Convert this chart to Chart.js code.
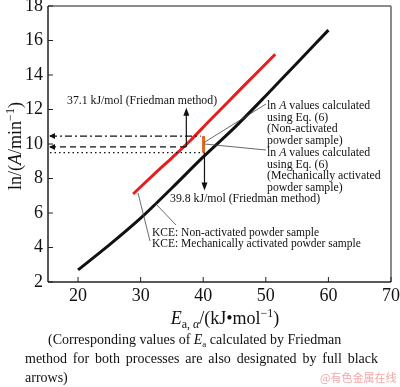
<!DOCTYPE html>
<html>
<head>
<meta charset="utf-8">
<script src="https://cdn.jsdelivr.net/npm/chart.js@4"></script>
<style>
  body { margin: 0; background: #fff; }
  #chart { display: block; }
</style>
</head>
<body>
<canvas id="chart" width="400" height="387"></canvas>
<script>
// data
const blackEa = [20, 25, 30, 35, 40, 45, 50, 55, 60];
const blackLnA = [2.7, 4.15, 5.7, 7.45, 9.25, 10.95, 12.8, 14.7, 16.6];
const redEa = [28.8, 32, 35, 38, 41, 44, 47, 51.5];
const redLnA = [7.1, 8.2, 9.2, 10.22, 11.35, 12.45, 13.56, 15.2];
const xTicks = [20, 30, 40, 50, 60, 70];
const yTicks = [2, 4, 6, 8, 10, 12, 14, 16, 18];

// reference levels: ln A (dash-dot, dashed, dotted) and where they stop on the Ea axis
const refLnA = [10.46, 9.83, 9.5];
const refEaEnd = [39.6, 37.3, 40.2];
const friedmanEa = [37.3, 40.2];     // up arrow (activated), down arrow (non-activated)
const arrowTips = [12.1, 7.3];

const SERIF = "'Liberation Serif', 'DejaVu Serif', serif";
const f = (size, italic) => (italic ? 'italic ' : '') + size + 'px ' + SERIF;

function rich(ctx, parts, x, y, align) {
  let w = 0;
  parts.forEach(p => { ctx.font = p.f; w += ctx.measureText(p.t).width; });
  let cx = align === 'center' ? x - w / 2 : x;
  ctx.textAlign = 'left';
  ctx.textBaseline = 'alphabetic';
  parts.forEach(p => {
    ctx.font = p.f;
    ctx.fillText(p.t, cx, y + (p.dy || 0));
    cx += ctx.measureText(p.t).width;
  });
}

function justify(ctx, text, x, y, width) {
  const words = text.split(' ');
  let sum = 0;
  words.forEach(w => sum += ctx.measureText(w).width);
  const gap = (width - sum) / (words.length - 1);
  let cx = x;
  words.forEach(w => { ctx.fillText(w, cx, y); cx += ctx.measureText(w).width + gap; });
}

function arrowHead(ctx, x, y, dir) {
  ctx.beginPath();
  if (dir === 'up') { ctx.moveTo(x, y); ctx.lineTo(x - 3, y + 8); ctx.lineTo(x + 3, y + 8); }
  else if (dir === 'down') { ctx.moveTo(x, y); ctx.lineTo(x - 3, y - 8); ctx.lineTo(x + 3, y - 8); }
  else { ctx.moveTo(x, y); ctx.lineTo(x + 6, y - 3); ctx.lineTo(x + 6, y + 3); }
  ctx.closePath();
  ctx.fill();
}

function line(ctx, x1, y1, x2, y2) {
  ctx.beginPath(); ctx.moveTo(x1, y1); ctx.lineTo(x2, y2); ctx.stroke();
}

const decor = {
  id: 'decor',
  afterDatasetsDraw(chart) {
    const ctx = chart.ctx, xs = chart.scales.x, ys = chart.scales.y, a = chart.chartArea;
    const X = v => xs.getPixelForValue(v), Y = v => ys.getPixelForValue(v);
    ctx.save();

    // frame
    ctx.lineWidth = 1.5;
    ctx.strokeStyle = '#666';
    line(ctx, a.left, a.top, a.right, a.top);
    line(ctx, a.right, a.top, a.right, a.bottom);
    ctx.strokeStyle = '#222';
    line(ctx, a.left, a.top, a.left, a.bottom);
    line(ctx, a.left, a.bottom, a.right, a.bottom);

    // inward ticks
    ctx.lineWidth = 1;
    xTicks.forEach(v => line(ctx, X(v), a.bottom, X(v), a.bottom - 5));
    yTicks.forEach(v => line(ctx, a.left, Y(v), a.left + 5, Y(v)));

    // reference lines
    ctx.strokeStyle = '#111';
    ctx.fillStyle = '#111';
    ctx.lineWidth = 1.2;
    const dashes = [[7, 3, 2, 3], [6, 4], [1.5, 3]];
    refLnA.forEach((v, i) => {
      ctx.setLineDash(dashes[i]);
      line(ctx, a.left + 2, Y(v), X(refEaEnd[i]), Y(v));
    });
    ctx.setLineDash([]);
    arrowHead(ctx, a.left + 1, Y(refLnA[0]), 'left');
    arrowHead(ctx, a.left + 1, Y(refLnA[1]), 'left');

    // Friedman arrows
    line(ctx, X(friedmanEa[0]), Y(refLnA[1]), X(friedmanEa[0]), Y(arrowTips[0]) + 6);
    arrowHead(ctx, X(friedmanEa[0]), Y(arrowTips[0]), 'up');
    line(ctx, X(friedmanEa[1]), Y(refLnA[2]), X(friedmanEa[1]), Y(arrowTips[1]) - 6);
    arrowHead(ctx, X(friedmanEa[1]), Y(arrowTips[1]), 'down');

    // orange bar: spread of ln A from Eq. (6)
    ctx.strokeStyle = '#e2661c';
    ctx.lineWidth = 3;
    line(ctx, X(40.05), Y(refLnA[0]), X(40.05), Y(refLnA[2]));

    // leader lines
    ctx.strokeStyle = '#444';
    ctx.lineWidth = 0.8;
    line(ctx, X(40.2), Y(10.1), 266, 104);
    line(ctx, X(40.2), Y(10.0), 266, 150);
    line(ctx, 138, 193, 150, 241);
    line(ctx, 155, 203, 176, 225);

    // annotation texts
    ctx.fillStyle = '#111';
    const s = 11.8;
    rich(ctx, [{ t: '37.1 kJ/mol (Friedman method)', f: f(s) }], 67, 104);
    rich(ctx, [{ t: '39.8 kJ/mol (Friedman method)', f: f(s) }], 170, 202);
    const lnA = [{ t: 'ln ', f: f(s) }, { t: 'A', f: f(s, true) }, { t: ' values calculated', f: f(s) }];
    const block = [lnA, 'using Eq. (6)', '(Non-activated', 'powder sample)',
                   lnA, 'using Eq. (6)', '(Mechanically activated', 'powder sample)'];
    block.forEach((l, i) => {
      const parts = typeof l === 'string' ? [{ t: l, f: f(s) }] : l;
      rich(ctx, parts, 267, 109 + i * 11.7);
    });
    rich(ctx, [{ t: 'KCE: Non-activated powder sample', f: f(11.5) }], 152, 236);
    rich(ctx, [{ t: 'KCE: Mechanically activated powder sample', f: f(11.5) }], 152, 247);

    // axis titles
    rich(ctx, [
      { t: 'E', f: f(18, true) }, { t: 'a, ', f: f(12), dy: 4 }, { t: 'α', f: f(12, true), dy: 4 },
      { t: '/(kJ•mol', f: f(18) }, { t: '−1', f: f(12), dy: -7 }, { t: ')', f: f(18) }
    ], 225, 324, 'center');
    ctx.save();
    ctx.translate(21, 146);
    ctx.rotate(-Math.PI / 2);
    rich(ctx, [
      { t: 'ln/(', f: f(18) }, { t: 'A', f: f(18, true) }, { t: '/min', f: f(18) },
      { t: '−1', f: f(12), dy: -7 }, { t: ')', f: f(18) }
    ], 0, 0, 'center');
    ctx.restore();

    // caption
    const c = 14;
    rich(ctx, [
      { t: '(Corresponding values of ', f: f(c) }, { t: 'E', f: f(c, true) },
      { t: 'a', f: f(9), dy: 3 }, { t: ' calculated by Friedman', f: f(c) }
    ], 48, 344);
    ctx.font = f(c);
    justify(ctx, 'method for both processes are also designated by full black', 25, 363, 353);
    ctx.fillText('arrows)', 25, 382);

    // watermark
    ctx.fillStyle = '#f2a6a6';
    ctx.font = "11px 'Noto Sans CJK SC', sans-serif";
    ctx.fillText('@有色金属在线', 320, 382);

    ctx.restore();
  }
};

new Chart(document.getElementById('chart'), {
  type: 'scatter',
  data: {
    datasets: [
      {
        label: 'Non-activated',
        data: blackEa.map((x, i) => ({ x, y: blackLnA[i] })),
        showLine: true, borderColor: '#111', borderWidth: 3, pointRadius: 0, tension: 0.3
      },
      {
        label: 'Mechanically activated',
        data: redEa.map((x, i) => ({ x, y: redLnA[i] })),
        showLine: true, borderColor: '#e61e1e', borderWidth: 3, pointRadius: 0, tension: 0.3
      }
    ]
  },
  options: {
    responsive: false,
    animation: false,
    layout: { padding: { left: 0, right: 9, top: 6, bottom: 0 } },
    plugins: { legend: { display: false }, tooltip: { enabled: false } },
    scales: {
      x: {
        type: 'linear', min: 15.2, max: 70,
        grid: { display: false, drawTicks: false, tickLength: 0 }, border: { display: false },
        afterBuildTicks: s => { s.ticks = xTicks.map(v => ({ value: v })); },
        afterFit: s => { s.height = 105; s.paddingLeft = 0; s.paddingRight = 0; },
        ticks: { color: '#111', padding: 3, maxRotation: 0, font: { family: 'Liberation Serif', size: 18 } }
      },
      y: {
        type: 'linear', min: 2, max: 18,
        grid: { display: false, drawTicks: false, tickLength: 0 }, border: { display: false },
        afterBuildTicks: s => { s.ticks = yTicks.map(v => ({ value: v })); },
        afterFit: s => { s.width = 48; s.paddingTop = 0; s.paddingBottom = 0; },
        ticks: { color: '#111', padding: 5, font: { family: 'Liberation Serif', size: 18 } }
      }
    }
  },
  plugins: [decor]
});
</script>
</body>
</html>
